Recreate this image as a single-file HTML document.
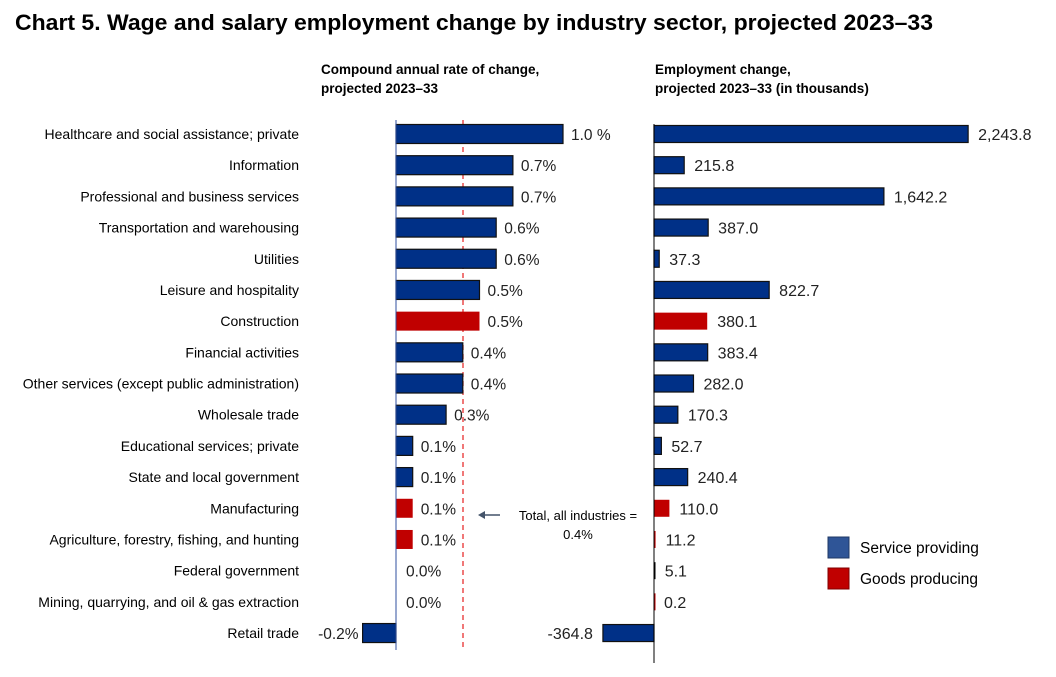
<!DOCTYPE html>
<html><head><meta charset="utf-8"><style>
body{margin:0;background:#fff;}
svg{display:block;font-family:"Liberation Sans",sans-serif;}
</style></head><body>
<svg id="c" width="1056" height="677">
<text x="15" y="30" font-size="22.5" font-weight="bold" fill="#000" textLength="918" lengthAdjust="spacingAndGlyphs">Chart 5. Wage and salary employment change by industry sector, projected 2023–33</text>
<text x="321" y="74" font-size="13.5" font-weight="bold">Compound annual rate of change,</text>
<text x="321" y="93" font-size="13.5" font-weight="bold">projected 2023–33</text>
<text x="655" y="74" font-size="13.5" font-weight="bold">Employment change,</text>
<text x="655" y="93" font-size="13.5" font-weight="bold">projected 2023–33 (in thousands)</text>
<line x1="463" y1="120" x2="463" y2="650" stroke="#e83030" stroke-width="1.3" stroke-dasharray="5,4"/>
<text x="578" y="520" font-size="13" text-anchor="middle">Total, all industries =</text>
<text x="578" y="539" font-size="13" text-anchor="middle">0.4%</text>
<g><line x1="500" y1="515" x2="481" y2="515" stroke="#44546a" stroke-width="1.5"/><path d="M478 515 L485 511 L485 519Z" fill="#44546a"/></g>
<rect x="828" y="537" width="21" height="21" fill="#2f5597" stroke="#1f3864"/>
<text x="860" y="549" font-size="15.5" dominant-baseline="middle">Service providing</text>
<rect x="828" y="568" width="21" height="21" fill="#c00000" stroke="#800000"/>
<text x="860" y="580" font-size="15.5" dominant-baseline="middle">Goods producing</text>
</svg>
<script>
const categories=["Healthcare and social assistance; private","Information","Professional and business services","Transportation and warehousing","Utilities","Leisure and hospitality","Construction","Financial activities","Other services (except public administration)","Wholesale trade","Educational services; private","State and local government","Manufacturing","Agriculture, forestry, fishing, and hunting","Federal government","Mining, quarrying, and oil & gas extraction","Retail trade"];
const rateValues=[1.0,0.7,0.7,0.6,0.6,0.5,0.5,0.4,0.4,0.3,0.1,0.1,0.1,0.1,0.0,0.0,-0.2];
const rateLabels=["1.0 %","0.7%","0.7%","0.6%","0.6%","0.5%","0.5%","0.4%","0.4%","0.3%","0.1%","0.1%","0.1%","0.1%","0.0%","0.0%","-0.2%"];
const changeValues=[2243.8,215.8,1642.2,387.0,37.3,822.7,380.1,383.4,282.0,170.3,52.7,240.4,110.0,11.2,5.1,0.2,-364.8];
const goodsProducing=[false,false,false,false,false,false,true,false,false,false,false,false,true,true,false,true,false];
const svg=document.getElementById('c');
const NS='http://www.w3.org/2000/svg';
const xRate=v=>396+v*167;
const xChg=v=>654+v*0.14;
const yRow=i=>134+i*31.19;
function mk(tag,a){const e=document.createElementNS(NS,tag);for(const k in a)e.setAttribute(k,a[k]);svg.appendChild(e);return e;}
categories.forEach((c,i)=>{
  const y=yRow(i);
  const t=mk('text',{x:299,y:y+5,'font-size':14,'text-anchor':'end'});t.textContent=c;
  
  
  const g=goodsProducing[i];
  const fill=g?'#c00000':'#003087';
  const st=g?'none':'#111';
  const v=rateValues[i];
  const x0=Math.min(xRate(0),xRate(v)),w=Math.abs(xRate(v)-xRate(0));
  if(w>0){const r=mk('rect',{x:x0,y:y-9.5,width:w,height:19,fill:fill,stroke:st,'stroke-width':1.2});
  
  }
  const lt=mk('text',{x:v<0?x0-4:(v===0?xRate(0)+10:xRate(v)+8),y:y+6,'font-size':15.5,'text-anchor':v<0?'end':'start',fill:'#222'});lt.textContent=rateLabels[i];
  
  
  const cv=changeValues[i];
  const cx0=Math.min(xChg(0),xChg(cv)),cw=Math.max(Math.abs(xChg(cv)-xChg(0)),1.5);
  const r2=mk('rect',{x:cx0,y:y-8.5,width:cw,height:17,fill:fill,stroke:cw>3?st:'none','stroke-width':1.2});
  if(cw<=3&&!g)r2.setAttribute('fill','#000');
  
  
  const ct=mk('text',{x:cv<0?cx0-10:xChg(cv)+10,y:y+6,'font-size':16,'text-anchor':cv<0?'end':'start',fill:'#222'});
  ct.textContent=cv.toLocaleString('en-US',{minimumFractionDigits:1,maximumFractionDigits:1});
  
  
});
const a1=mk('line',{x1:396,y1:120,x2:396,y2:650,stroke:'#2f4f9f','stroke-width':1});


const a2=mk('line',{x1:654,y1:124,x2:654,y2:663,stroke:'#000','stroke-width':1});


</script>
</body></html>
